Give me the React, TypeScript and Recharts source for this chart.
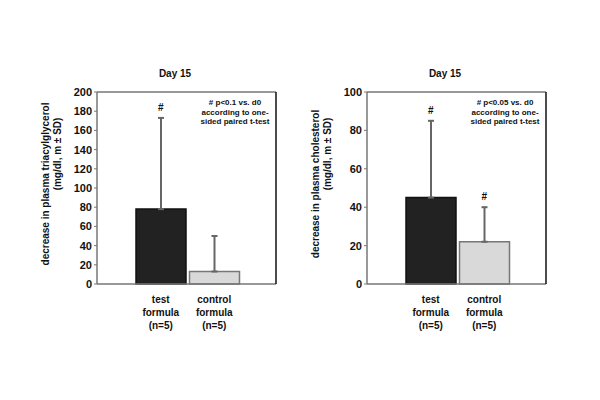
import { BarChart, Bar, XAxis, YAxis, ErrorBar, Cell, ReferenceDot } from 'recharts';

const FONT = 'Arial, "Liberation Sans", Helvetica, sans-serif';

// groups on the x axis
const categories = ['test formula', 'control formula'];
const groupSizes = [5, 5];
const barFills = ['#222222', '#d9d9d9'];
const barStrokes = ['#111111', '#777777'];

// left panel: triacylglycerol
const tgMean = [78, 13];
const tgSD = [95, 37];
const tgMarked = [true, false];
const tgTicks = [0, 20, 40, 60, 80, 100, 120, 140, 160, 180, 200];

// right panel: cholesterol
const cholMean = [45, 22];
const cholSD = [40, 18];
const cholMarked = [true, true];
const cholTicks = [0, 20, 40, 60, 80, 100];

function GroupTick({ x, y, payload }: any) {
  const i = categories.indexOf(payload.value);
  const words = String(payload.value).split(' ');
  return (
    <text x={x} y={y} textAnchor="middle" fontSize={10} fontWeight="bold" fill="#111" fontFamily={FONT}>
      <tspan x={x} dy={11}>{words[0]}</tspan>
      <tspan x={x} dy={13}>{words[1]}</tspan>
      <tspan x={x} dy={13}>(n={groupSizes[i]})</tspan>
    </text>
  );
}

function yLabel(lines: string[]) {
  return (props: any) => {
    const vb = props.viewBox || { x: 0 };
    const x1 = vb.x + 49;
    const x2 = vb.x + 61;
    return (
      <g fontFamily={FONT} fontWeight="bold" fontSize={10} fill="#111">
        <text x={x1} y={184} textAnchor="middle" transform={`rotate(-90, ${x1}, 184)`}>{lines[0]}</text>
        <text x={x2} y={154} textAnchor="middle" transform={`rotate(-90, ${x2}, 154)`}>{lines[1]}</text>
      </g>
    );
  };
}

interface PanelProps {
  left: number;
  mean: number[];
  sd: number[];
  marked: boolean[];
  ticks: number[];
  label: string[];
  note: string[];
}

function Panel({ left, mean, sd, marked, ticks, label, note }: PanelProps) {
  const data = categories.map((c, i) => ({ name: c, value: mean[i], err: [0, sd[i]] }));
  const yMax = ticks[ticks.length - 1];

  return (
    <div style={{ position: 'absolute', left, top: 0, width: 290, height: 400 }}>
      <div style={{ position: 'absolute', left: 125, top: 68, width: 100, textAlign: 'center', fontFamily: FONT, fontWeight: 'bold', fontSize: 10, color: '#111' }}>
        Day 15
      </div>
      <BarChart width={290} height={400} data={data} margin={{ top: 91, right: 13, bottom: 66, left: 0 }}>
        <XAxis
          dataKey="name"
          height={50}
          padding={{ left: 37, right: 35 }}
          tick={<GroupTick />}
          tickLine={false}
          axisLine={{ stroke: '#777', strokeWidth: 1.5 }}
          interval={0}
        />
        <XAxis xAxisId="top" orientation="top" dataKey="name" height={1} tick={false} tickLine={false} axisLine={{ stroke: '#777', strokeWidth: 1.5 }} />
        <YAxis
          domain={[0, yMax]}
          ticks={ticks}
          interval={0}
          width={97}
          tickSize={3}
          tickMargin={2}
          tickLine={{ stroke: '#777' }}
          axisLine={{ stroke: '#777', strokeWidth: 1.5 }}
          tick={{ fontSize: 11, fontWeight: 'bold', fill: '#111', fontFamily: FONT }}
          label={{ content: yLabel(label) }}
        />
        <YAxis yAxisId="r" orientation="right" width={1} tick={false} tickLine={false} axisLine={{ stroke: '#111', strokeWidth: 1.5 }} />
        <Bar dataKey="value" barSize={50} isAnimationActive={false}>
          {data.map((d, i) => (
            <Cell key={d.name} fill={barFills[i]} stroke={barStrokes[i]} strokeWidth={1.5} />
          ))}
          <ErrorBar dataKey="err" direction="y" width={3} strokeWidth={2} stroke="#666" isAnimationActive={false} />
        </Bar>
        {categories.map((c, i) =>
          marked[i] ? (
            <ReferenceDot
              key={c}
              x={c}
              y={mean[i] + sd[i]}
              r={1}
              fill="none"
              stroke="none"
              label={{ value: '#', position: 'top', offset: 6, fontSize: 10, fontWeight: 'bold', fill: '#111', fontFamily: FONT }}
            />
          ) : null
        )}
      </BarChart>
      <div style={{ position: 'absolute', left: 185, top: 98, width: 100, textAlign: 'center', fontFamily: FONT, fontWeight: 'bold', fontSize: 8, lineHeight: '9.5px', color: '#111' }}>
        {note.map((t) => (
          <div key={t}>{t}</div>
        ))}
      </div>
    </div>
  );
}

export default function App() {
  return (
    <div style={{ position: 'absolute', left: 0, top: 0, width: 600, height: 400, background: '#fff' }}>
      <Panel
        left={0}
        mean={tgMean}
        sd={tgSD}
        marked={tgMarked}
        ticks={tgTicks}
        label={['decrease  in plasma triacylglycerol', '(mg/dl, m \u00b1 SD)']}
        note={['# p<0.1 vs. d0', 'according to one-', 'sided paired t-test']}
      />
      <Panel
        left={270}
        mean={cholMean}
        sd={cholSD}
        marked={cholMarked}
        ticks={cholTicks}
        label={['decrease  in plasma cholesterol', '(mg/dl, m \u00b1 SD)']}
        note={['# p<0.05 vs. d0', 'according to one-', 'sided paired t-test']}
      />
    </div>
  );
}
